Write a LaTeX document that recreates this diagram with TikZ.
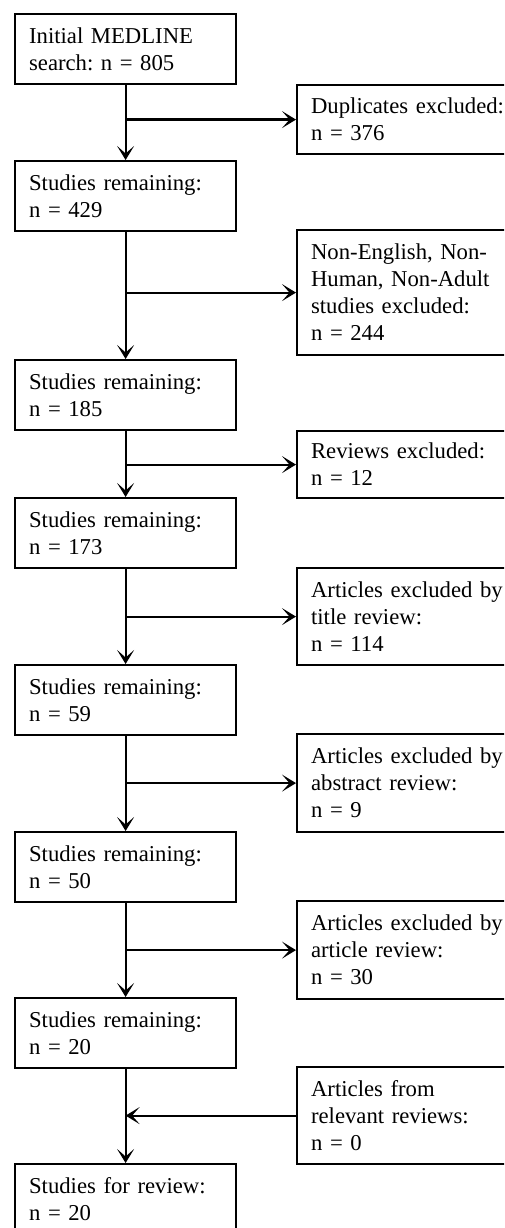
\documentclass[tikz,border=0pt]{standalone}
\usepackage{fontspec}
\setmainfont{Liberation Serif}
\usetikzlibrary{arrows.meta}
\frenchspacing
\newcommand{\boxfont}{\fontsize{22.7}{27}\selectfont\spaceskip=4.5pt plus 2pt minus 1pt\relax}
\begin{document}
\begin{tikzpicture}[x=1pt,y=-1pt,
  box/.style={draw, line width=2.2pt, rectangle, anchor=north west, align=left,
    inner xsep=14pt, inner ysep=0pt, font=\boxfont},
  lbox/.style={box, minimum width=221pt, text width=193pt, minimum height=70pt},
  rbox/.style={box, minimum width=226pt, text width=198pt},
  conn/.style={line width=2.2pt, -{Stealth[length=14pt,width=17pt,inset=7.5pt]}}]
\path[use as bounding box, clip] (0,0) rectangle (504,1228);
% left column
\node[lbox] (b1) at (14,13) {Initial MEDLINE\\search: n = 805};
\node[lbox] (b2) at (14,160) {Studies remaining:\\n = 429};
\node[lbox] (b3) at (14,359) {Studies remaining:\\n = 185};
\node[lbox] (b4) at (14,497) {Studies remaining:\\n = 173};
\node[lbox] (b5) at (14,664) {Studies remaining:\\n = 59};
\node[lbox] (b6) at (14,831) {Studies remaining:\\n = 50};
\node[lbox] (b7) at (14,997) {Studies remaining:\\n = 20};
\node[lbox] (b8) at (14,1163) {Studies for review:\\n = 20};
% right column
\node[rbox, minimum height=69pt] (r1) at (296,84) {Duplicates excluded:\\n = 376};
\node[rbox, minimum height=125pt] (r2) at (296,229) {Non-English, Non-\\Human, Non-Adult\\studies excluded:\\n = 244};
\node[rbox, minimum height=67pt] (r3) at (296,430) {Reviews excluded:\\n = 12};
\node[rbox, minimum height=97pt] (r4) at (296,567) {Articles excluded by\\title review:\\n = 114};
\node[rbox, minimum height=98pt] (r5) at (296,733) {Articles excluded by\\abstract review:\\n = 9};
\node[rbox, minimum height=98pt] (r6) at (296,900) {Articles excluded by\\article review:\\n = 30};
\node[rbox, minimum height=97pt] (r7) at (296,1066) {Articles from\\relevant reviews:\\n = 0};
% vertical connectors
\foreach \a/\b in {b1/b2,b2/b3,b3/b4,b4/b5,b5/b6,b6/b7,b7/b8}
  \draw[conn] (\a.south) -- (\b.north);
% branch points
\coordinate (j1) at (b1.south |- r1.west);
\coordinate (j2) at (b2.south |- r2.west);
\coordinate (j3) at (b3.south |- r3.west);
\coordinate (j4) at (b4.south |- r4.west);
\coordinate (j5) at (b5.south |- r5.west);
\coordinate (j6) at (b6.south |- r6.west);
\coordinate (j7) at (b7.south |- r7.west);
\foreach \j/\r in {j1/r1,j2/r2,j3/r3,j4/r4,j5/r5,j6/r6}
  \draw[conn] (\j) -- (\r.west);
\draw[conn] (r7.west) -- (j7);
\end{tikzpicture}
\end{document}
